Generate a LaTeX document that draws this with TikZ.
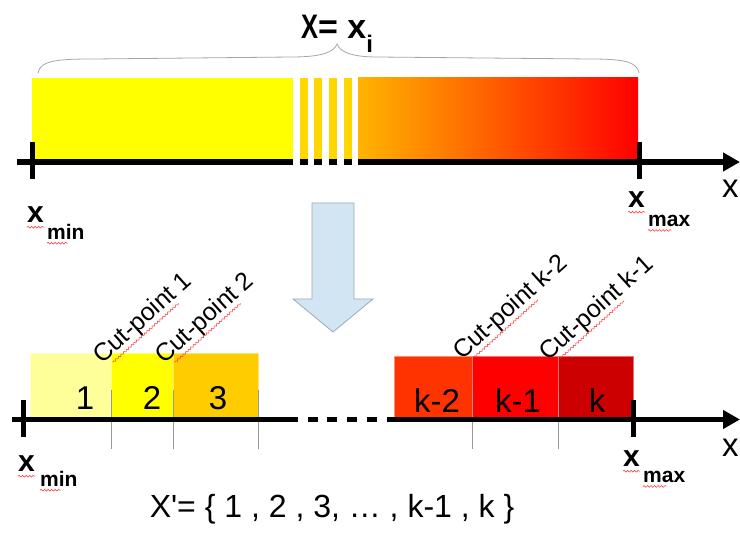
\documentclass[tikz,border=0pt]{standalone}
\usepackage{fontspec}
\setmainfont{Liberation Sans}
\usetikzlibrary{arrows.meta, positioning, calc, decorations.pathmorphing}
\definecolor{cpA}{HTML}{FFFF99}
\definecolor{cpB}{HTML}{FFFF00}
\definecolor{cpC}{HTML}{FFCC00}
\definecolor{cpD}{HTML}{FF3300}
\definecolor{cpE}{HTML}{FF0000}
\definecolor{cpF}{HTML}{CC0000}
\definecolor{cpgold}{HTML}{FFD700}
\definecolor{cporange}{HTML}{FFB400}
\definecolor{cpsky}{HTML}{D2E5F3}
\definecolor{cpsteel}{HTML}{9DAAB6}
\newcommand{\pxf}[1]{\fontsize{#1}{#1}\selectfont}

\begin{document}
\begin{tikzpicture}[x=1pt, y=-1pt, font=\pxf{22},
      ax/.style={line width=5.5pt},
      tk/.style={line width=5pt},
      tip/.style={-{Triangle[length=17pt, width=18pt]}},
      bx/.style={inner sep=0pt, outer sep=0pt, anchor=north west, line width=.6pt},
      sep/.style={draw=gray!80, line width=.7pt},
      cut/.style={rotate=42, anchor=base west, inner sep=0pt, font=\pxf{25}},
      num/.style={anchor=base, inner sep=0pt, font=\pxf{33}},
      xv/.style={anchor=base west, inner sep=0pt, font=\pxf{30}\bfseries},
      xs/.style={anchor=base west, inner sep=0pt, font=\pxf{21}\bfseries},
      sq/.style={red!85, line width=.5pt, decorate, decoration={snake, amplitude=.9pt, segment length=3.5pt}}]
  \useasboundingbox (0,0) rectangle (740,534);

  % continuous attribute
  \fill[cpB] (32,78) rectangle (293,162);
  \foreach \s in {300,314,329,344} \fill[cpgold] (\s,78) rectangle ++(7.5,84);
  \shade[left color=cporange, right color=red] (358,78) rectangle (638,162);
  \coordinate (t0) at (17,162); \coordinate (t1) at (293,162);
  \coordinate (t2) at (358,162); \coordinate (t3) at (740,162);
  \draw[ax] (t0) -- (t1);
  \foreach \s in {300,314,329,344} \draw[ax] (\s,162) -- ++(7.5,0);
  \draw[ax, tip] (t2) -- (t3);
  \draw[tk] (32,142) -- (32,179);
  \draw[tk] (639,142) -- (639,179);
  \draw[gray!70, line width=.8pt] (38,73) .. controls (40,60) and (60,59) .. (94,59) -- (292,57)
      .. controls (322,57) and (334,52) .. (337,44) .. controls (340,52) and (352,57) .. (377,57)
      -- (590,59) .. controls (625,59) and (637,62) .. (639,73);
  \node[anchor=base west, inner sep=0pt, font=\pxf{34}\bfseries] (ttl) at (301,39)
      {\scalebox{.75}[1]{X}= x\raisebox{-14pt}{\pxf{24}i}};

  \node[xv] (xmin1) at (27,223) {x};
  \node[xs] (smin1) at (47,240) {min};
  \node[xv] (xmax1) at (628,208) {x};
  \node[xs] (smax1) at (648,227) {max};
  \node[anchor=base west, inner sep=0pt, font=\pxf{33}] (xt) at (722,198) {x};

  % arrow down
  \draw[cpsteel, fill=cpsky, line width=.8pt] (312,203) -- (354,203) -- (354,299) -- (373,299)
      -- (333,332) -- (293,299) -- (312,299) -- cycle;

  % discretised attribute
  \foreach \n/\a/\b/\c/\t in {b1/30/111/cpA/353, b2/111/173/cpB/353, b3/173/258/cpC/353,
                               b4/394/472/cpD/356, b5/472/558/cpE/356, b6/558/633/cpF/356}
    \node[bx, fill=\c, draw=\c!55!white, minimum width={(\b-\a)*1pt}, minimum height={(419-\t)*1pt}] (\n) at (\a,\t) {};
  \foreach \x in {111,173,258,472,558} \draw[sep] (\x,390) -- (\x,449);
  \coordinate (a0) at (12,419.5); \coordinate (a1) at (298,419.5);
  \coordinate (a2) at (387,419.5); \coordinate (a3) at (740,419.5);
  \draw[ax] (a0) -- (a1);
  \foreach \s in {308,327,347,367} \draw[ax] (\s,419.5) -- ++(10,0);
  \draw[ax, tip] (a2) -- (a3);
  \draw[tk] (23,400) -- (23,437);
  \draw[tk] (633,400) -- (633,437);

  \foreach \n/\x/\y/\t in {n1/85/410/1, n2/152/410/2, n3/218/410/3, n4/437/413/k-2, n5/518/413/k-1, n6/597/413/k}
    \node[num] (\n) at (\x,\y) {\t};
  \foreach \n/\x/\y/\t in {c1/102/365/1, c2/164/365/2, c3/462/361/k-2, c4/548/362/k-1}
    \node[cut] (\n) at (\x,\y) {Cut-point \t};
  \foreach \n/\f in {c1/.8, c2/.8, c3/.68, c4/.68}
    \draw[sq] ($(\n.south west)!.08!(\n.south east)$) -- ($(\n.south west)!\f!(\n.south east)$);

  \node[xv] (xmin2) at (18,472) {x};
  \node[xs] (smin2) at (40,487) {min};
  \node[xv] (xmax2) at (623,467) {x};
  \node[xs] (smax2) at (643,483) {max};
  \node[anchor=base west, inner sep=0pt, font=\pxf{33}] (xb) at (722,457) {x};
  \foreach \n in {xmin1,xmax1,xmin2,xmax2}
    \draw[sq] ([yshift=-4pt]\n.south west) -- ([yshift=-4pt]\n.south east);
  \foreach \n in {smin1,smax1,smin2,smax2}
    \draw[sq] ([yshift=-3pt]\n.south west) -- ([yshift=-3pt]$(\n.south west)!.55!(\n.south east)$);

  \node[anchor=base, inner sep=0pt, font=\pxf{32}] (set) at (332,518)
      {X\textquotesingle= \{ 1 , 2 , 3, … , k-1 , k \}};
\end{tikzpicture}
\end{document}
